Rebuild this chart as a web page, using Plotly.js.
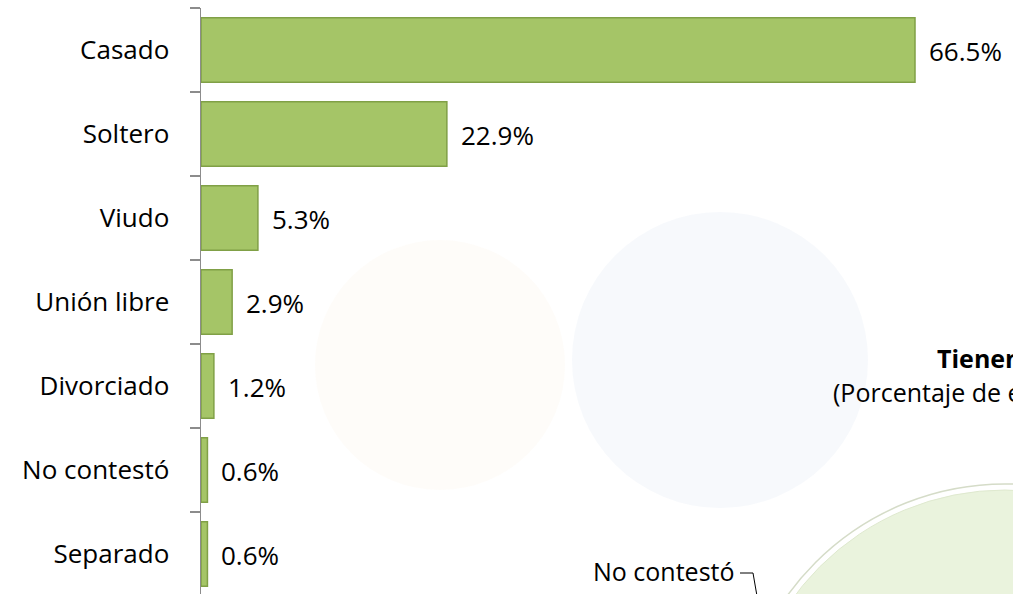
<!DOCTYPE html>
<html>
<head>
<meta charset="utf-8">
<script src="https://cdn.plot.ly/plotly-3.0.1.min.js"></script>
<style>
  html, body { margin: 0; padding: 0; background: #ffffff; }
  #chart { width: 1013px; height: 594px; }
</style>
</head>
<body>
<div id="chart"></div>
<script>
// Estado civil de los encuestados (porcentaje)
const categorias = ['Casado', 'Soltero', 'Viudo', 'Unión libre', 'Divorciado', 'No contestó', 'Separado'];
const porcentajes = [66.5, 22.9, 5.3, 2.9, 1.2, 0.6, 0.6];
const etiquetas = ['66.5%', '22.9%', '5.3%', '2.9%', '1.2%', '0.6%', '0.6%'];

// Títulos del gráfico de pastel contiguo
const tituloPastel = 'Tienen hijos';
const subtituloPastel = '(Porcentaje de encuestados)';
const etiquetaPastel = 'No contestó';

const W = 1013, H = 594;
const padL = 201, padT = 8;
const plotW = W - padL, plotH = H - padT;
const px = X => (X - padL) / plotW;      // pixel -> paper x
const py = Y => (H - Y) / plotH;          // pixel -> paper y

const font = '"Open Sans", "Noto Sans", sans-serif';

const trace = {
  type: 'bar',
  orientation: 'h',
  y: categorias,
  x: porcentajes,
  width: 0.77,
  marker: { color: '#a5c567', line: { color: '#80a046', width: 1.5 } },
  hoverinfo: 'none'
};

const annotations = porcentajes.map((v, i) => ({
  x: v, y: categorias[i], xref: 'x', yref: 'y',
  text: etiquetas[i], showarrow: false,
  xanchor: 'left', yanchor: 'middle', xshift: 12, yshift: -1,
  font: { family: font, size: 26, color: '#000000' }
}));

annotations.push(
  { x: px(935), y: py(358), xref: 'paper', yref: 'paper', text: '<b>' + tituloPastel + '</b>',
    showarrow: false, xanchor: 'left', yanchor: 'middle',
    font: { family: font, size: 25, color: '#000000' } },
  { x: px(831), y: py(392), xref: 'paper', yref: 'paper', text: subtituloPastel,
    showarrow: false, xanchor: 'left', yanchor: 'middle',
    font: { family: font, size: 25, color: '#000000' } },
  { x: px(737), y: py(571), xref: 'paper', yref: 'paper', text: etiquetaPastel,
    showarrow: false, xanchor: 'right', yanchor: 'middle',
    font: { family: font, size: 25, color: '#000000' } }
);

// circles positioned in pixels relative to the plot's lower-left corner
function circle(cx, cy, r, fill, line, lw, layer) {
  const ax = cx - padL, ay = H - cy;
  return {
    type: 'circle', xref: 'paper', yref: 'paper', xanchor: 0, yanchor: 0,
    xsizemode: 'pixel', ysizemode: 'pixel',
    x0: ax - r, x1: ax + r, y0: ay - r, y1: ay + r,
    fillcolor: fill, line: { color: line, width: lw }, layer: layer
  };
}

const shapes = [
  // faint background emblems
  circle(440, 365, 125, 'rgba(252,240,222,0.18)', 'rgba(0,0,0,0)', 0, 'below'),
  circle(720, 360, 148, 'rgba(235,241,248,0.4)', 'rgba(0,0,0,0)', 0, 'below'),
  // pie disc of the adjacent chart
  circle(1005, 752, 268, '#ffffff', '#d5dcc8', 1.5, 'above'),
  circle(1005, 752, 262, '#eaf3dd', '#dfe9cf', 1, 'above'),
  // leader line of the pie label
  { type: 'line', xref: 'paper', yref: 'paper', x0: px(740), y0: py(573), x1: px(753), y1: py(573),
    line: { color: '#000000', width: 1 } },
  { type: 'line', xref: 'paper', yref: 'paper', x0: px(753), y0: py(573), x1: px(757), y1: py(596),
    line: { color: '#000000', width: 1 } }
];

const layout = {
  width: W, height: H,
  margin: { l: padL, r: 0, t: padT, b: 0, pad: 0 },
  paper_bgcolor: '#ffffff', plot_bgcolor: 'rgba(0,0,0,0)',
  showlegend: false,
  bargap: 0.23,
  xaxis: {
    range: [0, plotW / (714 / 66.5)],
    visible: false, showgrid: false, zeroline: false, fixedrange: true
  },
  yaxis: {
    type: 'category',
    range: [-0.5 + plotH / 84, -0.5],
    showline: true, linecolor: '#8c8c8c', linewidth: 1.5,
    ticks: 'outside', ticklen: 10, tickwidth: 1.5, tickcolor: '#8c8c8c',
    tickson: 'boundaries',
    ticklabelstandoff: 25,
    showgrid: false, zeroline: false, fixedrange: true,
    tickfont: { family: font, size: 26, color: '#000000' }
  },
  annotations: annotations,
  shapes: shapes
};

Plotly.newPlot('chart', [trace], layout, { displayModeBar: false, staticPlot: true });
</script>
</body>
</html>
